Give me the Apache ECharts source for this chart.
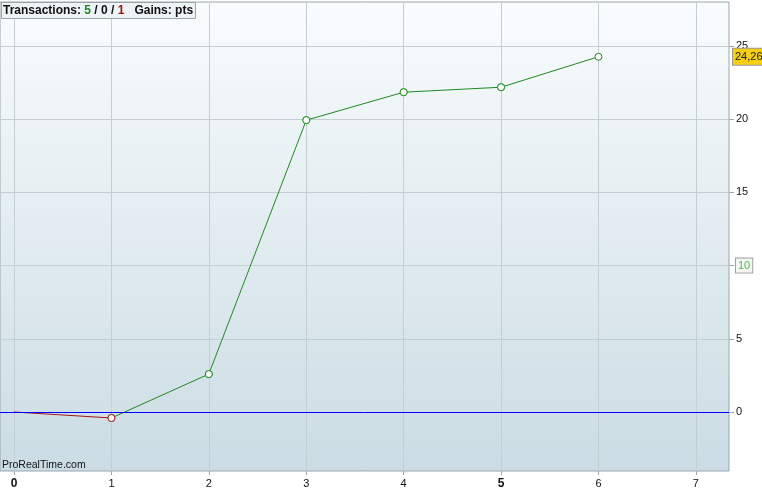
<!DOCTYPE html>
<html>
<head>
<meta charset="utf-8">
<script src="https://cdn.jsdelivr.net/npm/echarts@6/dist/echarts.min.js"></script>
<style>html,body{margin:0;padding:0;background:#fff;}#c{width:762px;height:490px;}</style>
</head>
<body>
<div id="c"></div>
<script>
var tradeIndex = [0, 1, 2, 3, 4, 5, 6];
var gains = [0, -0.41, 2.59, 19.93, 21.84, 22.18, 24.26];
var xTicks = [0, 1, 2, 3, 4, 5, 6, 7];
var yTicks = [0, 5, 10, 15, 20, 25];
var boldX = [0, 5];
var boxedY = [10];
var lastGain = gains[gains.length - 1];

var FONT = '"Liberation Sans", Arial, sans-serif';
var GREEN = '#1f8a1f', RED = '#a81414';

// split the equity curve into losing and winning segments
var lossData = [], winData = [];
for (var i = 1; i < gains.length; i++) {
  var seg = gains[i] < gains[i - 1] ? lossData : winData;
  var other = seg === lossData ? winData : lossData;
  seg.push([tradeIndex[i - 1], gains[i - 1]], [tradeIndex[i], gains[i]]);
  other.push(null);
}
function toItems(arr) {
  return arr.map(function (p) { return p ? { value: p, symbol: p[0] === tradeIndex[0] ? 'none' : 'circle' } : '-'; });
}

var chart = echarts.init(document.getElementById('c'), null, { renderer: 'canvas' });
chart.setOption({
  animation: false,
  backgroundColor: '#ffffff',
  title: [{
    text: '{b|Transactions: }{g|5}{b| / 0 / }{r|1}{b|   Gains: pts}',
    left: 1, top: 2,
    padding: [3, 3, 2, 2],
    backgroundColor: '#eef3f5',
    borderColor: '#9aa6ad',
    borderWidth: 1,
    textStyle: {
      rich: {
        b: { fontFamily: FONT, fontSize: 12, fontWeight: 'bold', color: '#111' },
        g: { fontFamily: FONT, fontSize: 12, fontWeight: 'bold', color: GREEN },
        r: { fontFamily: FONT, fontSize: 12, fontWeight: 'bold', color: '#a01010' }
      }
    }
  }, {
    text: 'ProRealTime.com',
    left: 2, bottom: 19,
    padding: 0,
    textStyle: { fontFamily: FONT, fontSize: 10.5, fontWeight: 'normal', color: '#111' }
  }],
  grid: {
    left: 0, right: 33, top: 2, bottom: 19,
    outerBoundsMode: 'none',
    containLabel: false,
    show: true,
    borderColor: '#9aa6ad',
    borderWidth: 1,
    backgroundColor: new echarts.graphic.LinearGradient(0, 0, 0, 1, [
      { offset: 0, color: '#f9fcfd' },
      { offset: 1, color: '#cbdce4' }
    ])
  },
  xAxis: {
    type: 'value',
    min: -0.144, max: 7.34,
    axisLine: { show: false, onZero: false },
    axisTick: { show: true, customValues: xTicks, length: 4, lineStyle: { color: '#9aa6ad' } },
    splitLine: { show: true, lineStyle: { color: '#c3cfd5', width: 1 } },
    axisLabel: {
      customValues: xTicks,
      margin: 7,
      fontFamily: FONT, fontSize: 11, color: '#111',
      formatter: function (v) { return boldX.indexOf(v) >= 0 ? '{bb|' + v + '}' : String(v); },
      rich: { bb: { fontFamily: FONT, fontSize: 12, fontWeight: 'bold', color: '#111' } }
    }
  },
  yAxis: [{
    type: 'value',
    position: 'right',
    min: -4.03, max: 28.0,
    axisLine: { show: false, onZero: false },
    axisTick: { show: true, customValues: yTicks, length: 5, lineStyle: { color: '#9aa6ad' } },
    splitLine: { show: true, lineStyle: { color: '#c3cfd5', width: 1 } },
    axisLabel: {
      customValues: yTicks,
      margin: 7,
      fontFamily: FONT, fontSize: 11, color: '#111',
      formatter: function (v) { return boxedY.indexOf(v) >= 0 ? '{bx|' + v + '}' : String(v); },
      rich: {
        bx: { fontFamily: FONT, fontSize: 11, color: '#44c244', backgroundColor: '#f6f6f4', borderColor: '#a0a0a0', borderWidth: 1, padding: [2, 2, 1, 2] }
      }
    }
  }, {
    type: 'value',
    position: 'right',
    min: -4.03, max: 28.0,
    axisLine: { show: false, onZero: false },
    axisTick: { show: false },
    splitLine: { show: false },
    axisLabel: {
      customValues: [lastGain],
      margin: 4,
      formatter: function (v) { return '{y|' + String(v).replace('.', ',') + '}'; },
      rich: {
        y: { fontFamily: FONT, fontSize: 11, color: '#222', backgroundColor: '#f5cf10', borderColor: '#999', borderWidth: 1, padding: [3, 3, 2, 2] }
      }
    }
  }],
  series: [{
    type: 'line',
    name: 'loss',
    data: toItems(lossData),
    connectNulls: false,
    symbolSize: 7,
    showAllSymbol: true,
    lineStyle: { width: 1, color: RED },
    itemStyle: { color: '#ffffff', borderColor: RED, borderWidth: 1 },
    z: 3
  }, {
    type: 'line',
    name: 'win',
    data: toItems(winData),
    connectNulls: false,
    symbolSize: 7,
    showAllSymbol: true,
    lineStyle: { width: 1, color: GREEN },
    itemStyle: { color: '#ffffff', borderColor: GREEN, borderWidth: 1 },
    markLine: {
      silent: true, symbol: 'none', label: { show: false },
      lineStyle: { color: '#0000ff', width: 1, type: 'solid' },
      data: [{ yAxis: 0 }]
    },
    z: 2
  }]
});
</script>
</body>
</html>
